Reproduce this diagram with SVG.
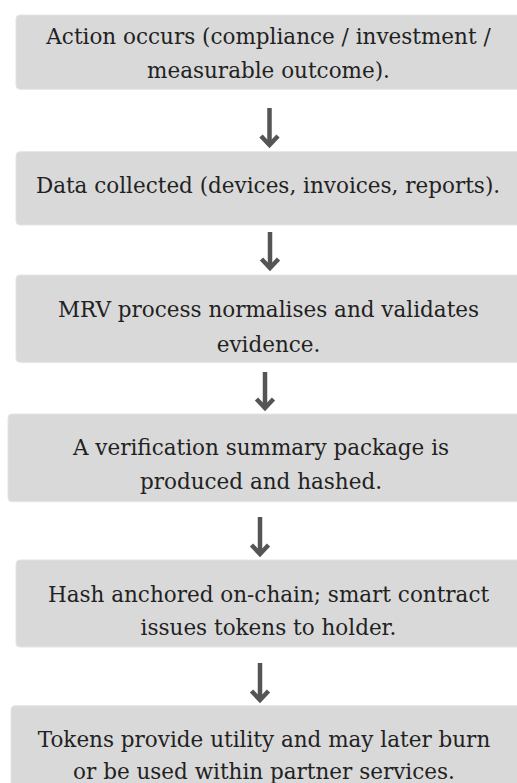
<svg xmlns="http://www.w3.org/2000/svg" width="517" height="783" viewBox="0 0 517 783">
<style>
  .box { fill: #d9d9d9; stroke: #e4e4e4; stroke-width: 1; }
  .t { font-family: "DejaVu Serif", "Liberation Serif", serif; font-size: 21.5px; fill: #222; text-anchor: middle; }
  .arr { stroke: #555; stroke-width: 4.5; fill: none; stroke-linejoin: miter; stroke-linecap: butt; }
</style>
<rect width="517" height="783" fill="#fff"/>
<g id="connectors">
  <g class="arr"><line x1="269.5" y1="108" x2="269.5" y2="145"/><polyline points="261,136 269.5,145 278,136"/></g>
  <g class="arr"><line x1="270" y1="232" x2="270" y2="268"/><polyline points="261.5,259 270,268 278.5,259"/></g>
  <g class="arr"><line x1="265" y1="372" x2="265" y2="408"/><polyline points="256.5,399 265,408 273.5,399"/></g>
  <g class="arr"><line x1="260" y1="517" x2="260" y2="554"/><polyline points="251.5,545 260,554 268.5,545"/></g>
  <g class="arr"><line x1="260" y1="663" x2="260" y2="700"/><polyline points="251.5,691 260,700 268.5,691"/></g>
</g>
<g id="n1">
  <rect class="box" x="16" y="15" width="520" height="74.3" rx="4"/>
  <text class="t" x="268.5" y="44">Action occurs (compliance / investment /</text>
  <text class="t" x="268.5" y="77.5">measurable outcome).</text>
</g>
<g id="n2">
  <rect class="box" x="16" y="151.7" width="520" height="73.3" rx="4"/>
  <text class="t" x="268" y="193.3">Data collected (devices, invoices, reports).</text>
</g>
<g id="n3">
  <rect class="box" x="16" y="275" width="520" height="87.3" rx="4"/>
  <text class="t" x="268.5" y="316.7">MRV process normalises and validates</text>
  <text class="t" x="268.5" y="351.7">evidence.</text>
</g>
<g id="n4">
  <rect class="box" x="8" y="414" width="520" height="87.7" rx="4"/>
  <text class="t" x="261" y="455">A verification summary package is</text>
  <text class="t" x="261" y="489.3">produced and hashed.</text>
</g>
<g id="n5">
  <rect class="box" x="16" y="560" width="520" height="87" rx="4"/>
  <text class="t" x="268.5" y="601.7">Hash anchored on-chain; smart contract</text>
  <text class="t" x="268.5" y="635">issues tokens to holder.</text>
</g>
<g id="n6">
  <rect class="box" x="11" y="705.7" width="520" height="100" rx="4"/>
  <text class="t" x="264" y="746.7">Tokens provide utility and may later burn</text>
  <text class="t" x="264" y="778.5">or be used within partner services.</text>
</g>
</svg>
